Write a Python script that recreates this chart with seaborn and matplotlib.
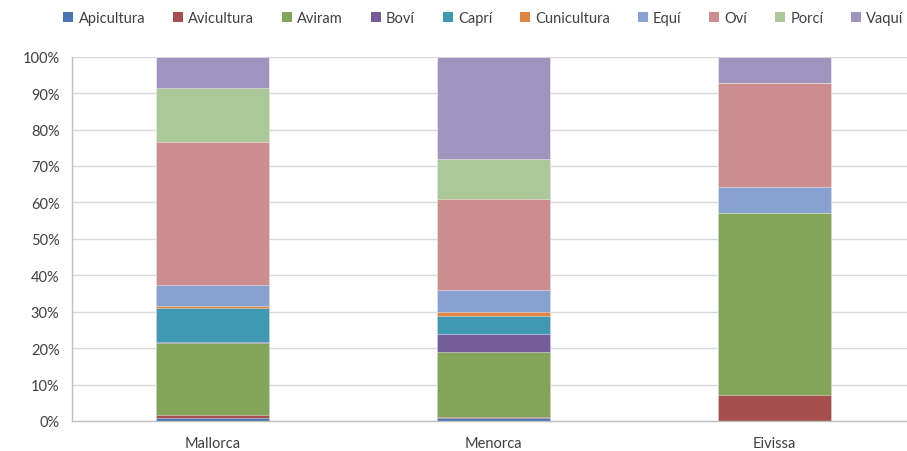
import numpy as np
import pandas as pd
import matplotlib
matplotlib.use("Agg")
import matplotlib.pyplot as plt
from matplotlib.patches import Patch
import seaborn as sns

# share of each livestock type per island (%)
islands = ["Mallorca", "Menorca", "Eivissa"]
types = ["Apicultura", "Avicultura", "Aviram", "Boví", "Caprí",
         "Cunicultura", "Equí", "Oví", "Porcí", "Vaquí"]
apicultura = [0.9, 0.8, 0.0]
avicultura = [0.7, 0.2, 7.0]
aviram = [19.7, 18.0, 50.1]
bovi = [0.3, 5.0, 0.0]
capri = [9.4, 4.9, 0.0]
cunicultura = [0.5, 1.0, 0.0]
equi = [5.7, 6.0, 7.2]
ovi = [39.5, 25.0, 28.6]
porci = [14.6, 11.0, 0.0]
vaqui = [8.7, 28.1, 7.1]

colors = ["#4A76B4", "#A64D4D", "#82A55A", "#735E9A", "#3F99B3",
          "#E0853F", "#87A2D0", "#CB8D8E", "#ABC899", "#9F94BD"]

df = pd.DataFrame(
    [apicultura, avicultura, aviram, bovi, capri, cunicultura, equi, ovi, porci, vaqui],
    index=types, columns=islands)
cum = df.cumsum()

sns.set_style("white")
plt.rcParams["font.family"] = ["Lato", "DejaVu Sans"]
text_col = "#404040"

fig = plt.figure(figsize=(9.07, 4.52), dpi=100)
ax = fig.add_axes([72 / 907, 30 / 452, 843 / 907, 364.3 / 452])

# draw from the top series down so each layer covers the one above it
for i in range(len(types) - 1, -1, -1):
    t = types[i]
    d = pd.DataFrame({"isla": islands, "val": cum.loc[t].values})
    sns.barplot(data=d, x="isla", y="val", order=islands, color=colors[i],
                saturation=1, width=0.4, edgecolor=(1, 1, 1, 0.5),
                linewidth=0.6, ax=ax, zorder=2)

ax.set_ylim(0, 100)
ax.set_xlim(-0.5, 2.5)
ax.set_yticks(np.arange(0, 101, 10))
ax.set_yticklabels([f"{v}%" for v in range(0, 101, 10)])
ax.yaxis.grid(True, color="#d9d9d9", linewidth=1)
ax.set_axisbelow(True)
ax.set_xlabel("")
ax.set_ylabel("")

ax.set_xticks([0, 1, 2])
ax.set_xticks([-0.5, 0.5, 1.5, 2.5], minor=True)
ax.tick_params(axis="x", which="major", length=0, pad=11, labelsize=10.5, labelcolor=text_col)
ax.tick_params(axis="x", which="minor", length=5, color="#bfbfbf", width=1)
ax.tick_params(axis="y", length=4, color="#bfbfbf", width=1, pad=5, labelsize=10.5, labelcolor=text_col)

for s in ["top", "right"]:
    ax.spines[s].set_visible(False)
for s in ["left", "bottom"]:
    ax.spines[s].set_color("#bfbfbf")
    ax.spines[s].set_linewidth(1)

handles = [Patch(facecolor=c, edgecolor="none", label=t) for t, c in zip(types, colors)]
fig.legend(handles=handles, loc="center", bbox_to_anchor=(0.533, 0.958), ncol=10,
           frameon=False, handlelength=0.7, handleheight=0.7, handletextpad=0.35,
           columnspacing=1.9, fontsize=10.5, labelcolor=text_col)

fig.savefig("out.png", dpi=100)
